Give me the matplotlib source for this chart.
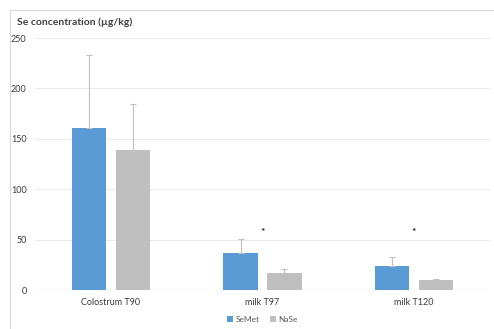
import numpy as np
from matplotlib import pyplot as plt
from matplotlib.patches import Rectangle

categories = ["Colostrum T90", "milk T97", "milk T120"]
semet = [161, 37, 24]
semet_err = [72, 14, 9]
nase = [139, 17, 10]
nase_err = [46, 4, 1]
star_y = [None, 57, 57]
y_ticks = [0, 50, 100, 150, 200, 250]

blue = "#5B9BD5"
grey = "#BFBFBF"
txt = "#3A3A3A"

plt.rcParams["font.family"] = ["Lato", "DejaVu Sans"]

fig = plt.figure(figsize=(4.94, 3.29), dpi=100)
fig.patches.append(Rectangle((10 / 494, -0.1), 1.2, 1 - 10 / 329 + 0.1,
                             transform=fig.transFigure, fill=False,
                             edgecolor="#D9D9D9", linewidth=0.8))
ax = fig.add_axes([35 / 494, 1 - 290 / 329, 455 / 494, 252 / 329])

x = np.arange(len(categories))
w = 0.225
off = 0.145
ekw = dict(ecolor="#BFBFBF", elinewidth=0.8, capsize=2, capthick=0.8)
ax.bar(x - off, semet, w, color=blue, yerr=[[0] * 3, semet_err],
       error_kw=ekw, label="SeMet", zorder=3)
ax.bar(x + off, nase, w, color=grey, yerr=[[0] * 3, nase_err],
       error_kw=ekw, label="NaSe", zorder=3)
for i, s in enumerate(star_y):
    if s is not None:
        ax.text(x[i], s, "*", ha="center", va="center", fontsize=7.5,
                fontweight="bold", color="#262626")

ax.set_xlim(-0.5, 2.5)
ax.set_ylim(0, 250)
ax.set_yticks(y_ticks)
ax.set_xticks(x)
ax.set_xticklabels(categories)
ax.tick_params(axis="both", length=0, labelsize=6.5, colors=txt)
ax.tick_params(axis="x", pad=6)
ax.tick_params(axis="y", pad=6)
ax.grid(axis="y", color="#EBEBEB", linewidth=0.8, zorder=0)
for sp in ax.spines.values():
    sp.set_visible(False)
ax.axhline(0, color="#E3E3E3", linewidth=0.8, zorder=2)

fig.text(17 / 494, 1 - 22 / 329, "Se concentration (µg/kg)", fontsize=7.5,
         color="#404040", fontweight="bold", va="center")
ax.legend(loc="center", bbox_to_anchor=(0.5, -0.117), ncol=2, frameon=False,
          fontsize=6, handlelength=0.7, handleheight=0.7, columnspacing=1.2,
          handletextpad=0.3, labelcolor="#595959")

fig.savefig("out.png", dpi=100)
